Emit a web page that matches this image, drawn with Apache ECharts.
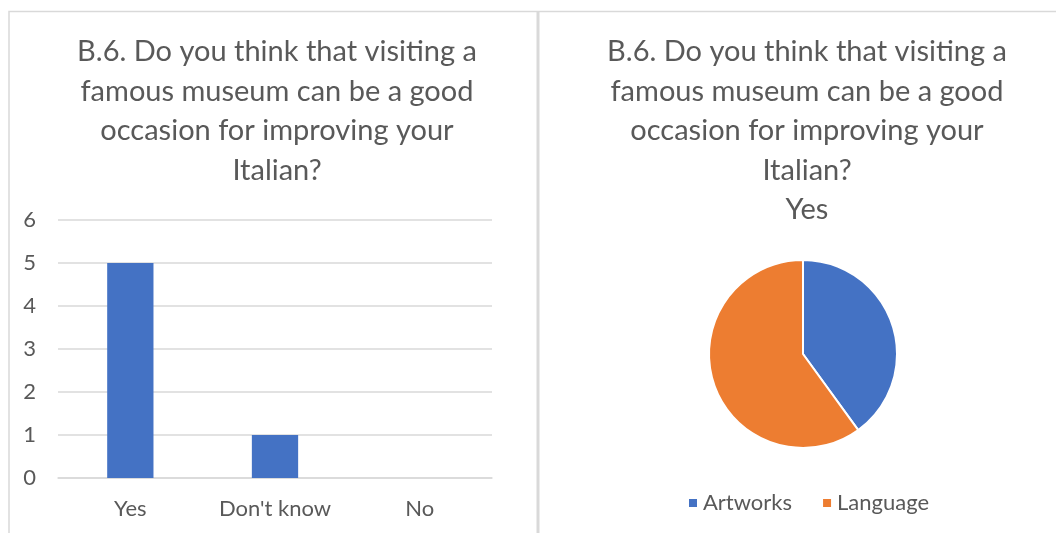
<!DOCTYPE html>
<html><head><meta charset="utf-8">
<script src="https://cdn.jsdelivr.net/npm/echarts@6/dist/echarts.min.js"></script>
<style>html,body{margin:0;padding:0;background:#fff}#c{width:1056px;height:533px}</style>
</head><body><div id="c"></div>
<script>
const barCategories = ["Yes", "Don't know", "No"];
const barValues = [5, 1, 0];
const yTicks = [0, 6, 1]; // min, max, interval
const pieNames = ["Artworks", "Language"];
const pieValues = [2, 3];
const titleText = "B.6. Do you think that visiting a\nfamous museum can be a good\noccasion for improving your\nItalian?";
const pieTitleText = titleText + "\nYes";

const FONT = "Lato";
const chart = echarts.init(document.getElementById('c'), null, {renderer: 'canvas'});
chart.setOption({
  animation: false,
  textStyle: {fontFamily: FONT},
  graphic: [
    {type: 'polyline', shape: {points: [[9, 540], [9, 11.5], [1060, 11.5]]}, style: {stroke: '#d9d9d9', lineWidth: 1.5, fill: null}},
    {type: 'line', shape: {x1: 538, y1: 11, x2: 538, y2: 540}, style: {stroke: '#d9d9d9', lineWidth: 3}}
  ],
  title: [
    {text: titleText, left: 272, top: 27, textAlign: 'center',
     textStyle: {fontFamily: FONT, fontSize: 29, fontWeight: 'normal', color: '#595959', lineHeight: 39.5}},
    {text: pieTitleText, left: 802, top: 27, textAlign: 'center',
     textStyle: {fontFamily: FONT, fontSize: 29, fontWeight: 'normal', color: '#595959', lineHeight: 39.5}}
  ],
  grid: {left: 58, top: 220, width: 434, height: 258, containLabel: false},
  xAxis: {
    type: 'category', data: barCategories,
    axisLine: {show: true, lineStyle: {color: '#d9d9d9', width: 1.5}},
    axisTick: {show: false},
    axisLabel: {color: '#595959', fontSize: 22, fontFamily: FONT, margin: 20, interval: 0, hideOverlap: false}
  },
  yAxis: {
    type: 'value', min: yTicks[0], max: yTicks[1], interval: yTicks[2],
    axisLine: {show: false}, axisTick: {show: false},
    splitLine: {lineStyle: {color: '#d9d9d9', width: 1.5}},
    axisLabel: {color: '#595959', fontSize: 22, fontFamily: FONT, margin: 22}
  },
  legend: {
    data: pieNames, top: 487, left: 682, width: 300,
    itemWidth: 10, itemHeight: 10, itemGap: 29, icon: 'rect',
    textStyle: {color: '#595959', fontSize: 22, fontFamily: FONT}
  },
  series: [
    {type: 'bar', data: barValues, barWidth: '32%', itemStyle: {color: '#4472C4'}},
    {type: 'pie', center: [803, 354], radius: 94, startAngle: 90, clockwise: true,
     label: {show: false}, labelLine: {show: false},
     itemStyle: {borderColor: '#fff', borderWidth: 2},
     data: pieNames.map((n, i) => ({name: n, value: pieValues[i], itemStyle: {color: i === 0 ? '#4472C4' : '#ED7D31'}}))}
  ]
});
</script></body></html>
